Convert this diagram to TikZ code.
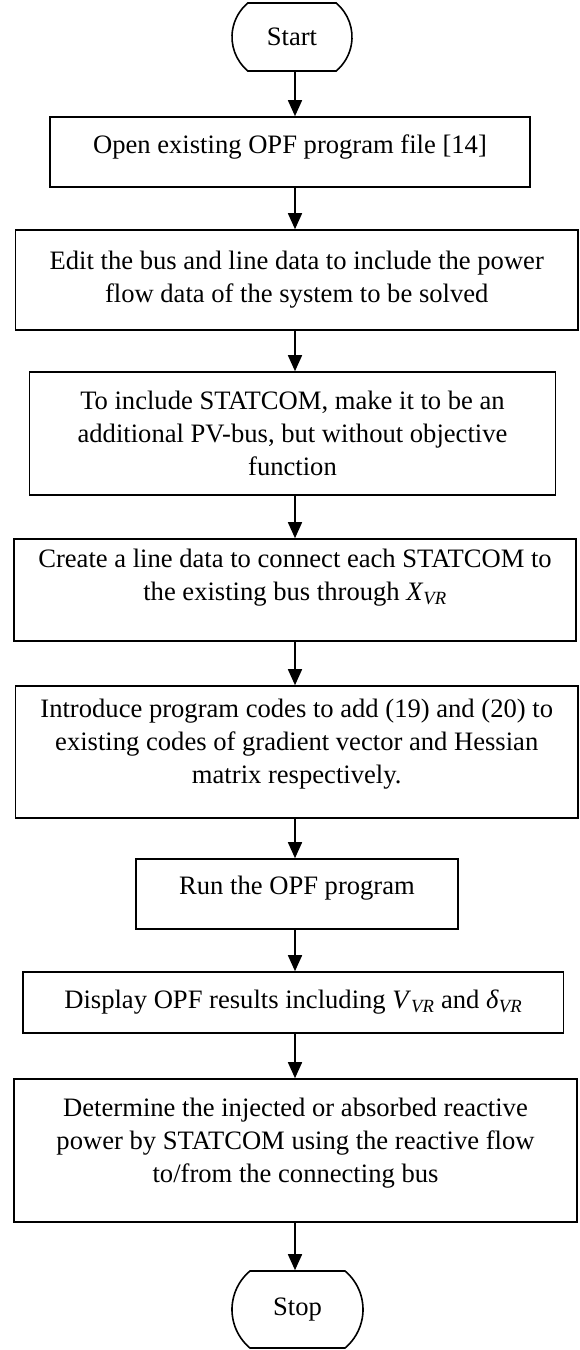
\documentclass[tikz,border=0pt]{standalone}
\usepackage{fontspec}
\setmainfont{Liberation Serif}
\usetikzlibrary{shapes.misc,arrows.meta}
\begin{document}
\begin{tikzpicture}[x=1pt,y=1pt,
  every node/.style={font=\fontsize{26.6}{33}\selectfont},
  box/.style={draw,line width=1.6pt,rectangle,align=center,inner sep=0pt},
  term/.style={draw,line width=1.6pt,rounded rectangle,rounded rectangle arc length=100,inner sep=0pt},
  arr/.style={line width=1.6pt,-{Triangle[length=16pt,width=14pt]}}]
\useasboundingbox (0,0) rectangle (579,-1350);
\coordinate (ax) at (295,0);
\node[term,minimum width=120,minimum height=68] (start) at (292,-37) {Start};
\node[box,minimum width=480,minimum height=70] (open) at (290,-152) {Open existing OPF program file [14]\\[-17pt]\mbox{}};
\node[box,minimum width=562.5,minimum height=100] (edit) at (296.75,-280) {Edit the bus and line data to include the power\\flow data of the system to be solved};
\node[box,minimum width=526,minimum height=123] (statcom) at (292.5,-433.5) {To include STATCOM, make it to be an\\additional PV-bus, but without objective\\function};
\node[box,minimum width=562,minimum height=102] (create) at (295,-590) {Create a line data to connect each STATCOM to\\the existing bus through \textit{X}\textsubscript{\textit{VR}}\\[-3pt]\mbox{}};
\node[box,minimum width=562.5,minimum height=132] (intro) at (296.75,-752) {Introduce program codes to add (19) and (20) to\\existing codes of gradient vector and Hessian\\matrix respectively.\\[-11pt]\mbox{}};
\node[box,minimum width=322,minimum height=70] (run) at (297,-894) {Run the OPF program\\[-15pt]\mbox{}};
\node[box,minimum width=540.5,minimum height=61] (disp) at (293.25,-1002.5) {Display OPF results including \textit{V}\textsubscript{\textit{VR}} and \textit{δ}\textsubscript{\textit{VR}}};
\node[box,minimum width=563,minimum height=143] (det) at (295.5,-1150.5) {Determine the injected or absorbed reactive\\power by STATCOM using the reactive flow\\to/from the connecting bus\\[-12.5pt]\mbox{}};
\node[term,minimum width=131,minimum height=77] (stop) at (297.5,-1309.5) {Stop};
\draw[arr] (start.south -| ax) -- (open.north -| ax);
\draw[arr] (open.south -| ax) -- (edit.north -| ax);
\draw[arr] (edit.south -| ax) -- (statcom.north -| ax);
\draw[arr] (statcom.south -| ax) -- (create.north -| ax);
\draw[arr] (create.south -| ax) -- (intro.north -| ax);
\draw[arr] (intro.south -| ax) -- (run.north -| ax);
\draw[arr] (run.south -| ax) -- (disp.north -| ax);
\draw[arr] (disp.south -| ax) -- (det.north -| ax);
\draw[arr] (det.south -| ax) -- (stop.north -| ax);
\end{tikzpicture}
\end{document}
